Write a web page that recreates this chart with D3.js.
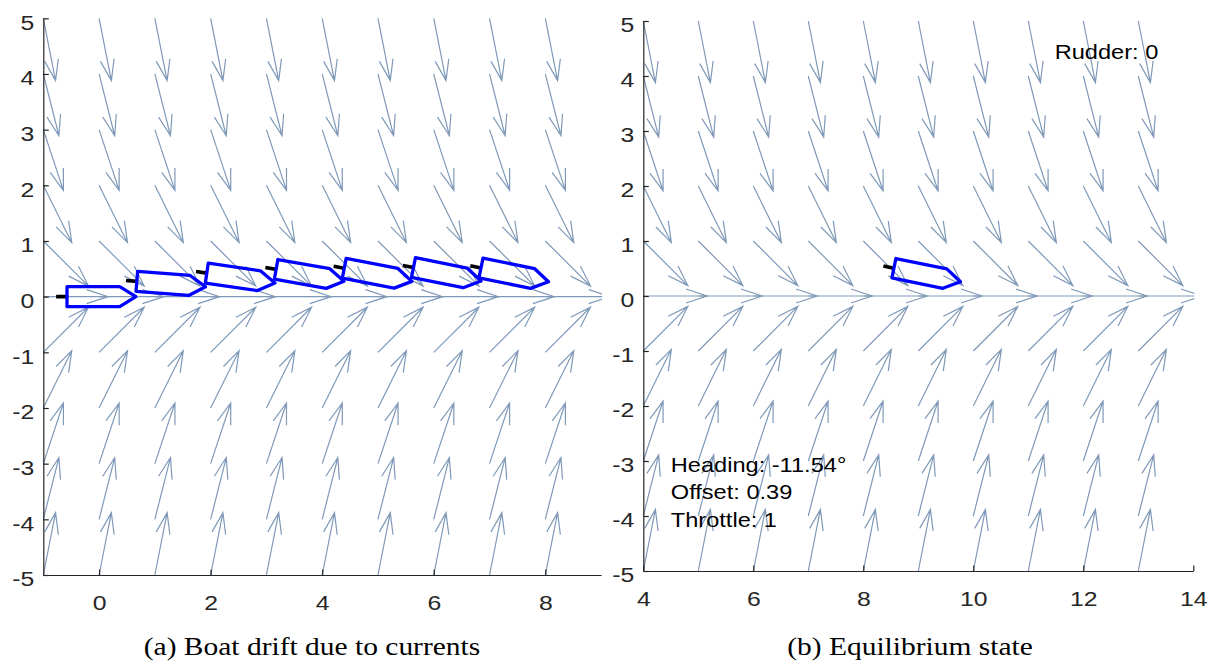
<!DOCTYPE html>
<html>
<head>
<meta charset="utf-8">
<script src="https://cdn.jsdelivr.net/npm/d3@7"></script>
<style>
	body { margin: 0; background: #fff; }
</style>
</head>
<body>
<script>
// current field: one vector per row, repeated along each row
var quiverRows = [-5, -4, -3, -2, -1, 0, 1, 2, 3, 4, 5];
var rowU = [0.22, 0.28, 0.36, 0.51, 0.81, 1.16, 0.81, 0.51, 0.36, 0.28, 0.22];
var rowV = [1.12, 1.11, 1.09, 1.03, 0.81, 0, -0.81, -1.03, -1.09, -1.11, -1.12];
var leftCols = [-1, 0, 1, 2, 3, 4, 5, 6, 7, 8];
var rightCols = [4, 5, 6, 7, 8, 9, 10, 11, 12, 13];

// boat snapshots (position of boat origin, heading in degrees)
var driftX = [0, 1.25, 2.5, 3.74, 4.96, 6.2, 7.41];
var driftY = [0, 0.23, 0.34, 0.39, 0.40, 0.41, 0.40];
var driftHeading = [0, -4.5, -8.3, -10, -11, -11.3, -11.6];
var eqX = [9.12];
var eqY = [0.39];
var eqHeading = [-11.54];

var leftXTicks = [0, 2, 4, 6, 8];
var rightXTicks = [4, 6, 8, 10, 12, 14];
var yTicks = [-5, -4, -3, -2, -1, 0, 1, 2, 3, 4, 5];

var infoLines = ["Heading: -11.54\u00b0", "Offset: 0.39", "Throttle: 1"];
var rudderLabel = "Rudder: 0";
var captions = ["(a) Boat drift due to currents", "(b) Equilibrium state"];

var W = 1208, H = 662;
var SX = 1.18; // the figure is stretched sideways
var sans = "'Liberation Sans', Arial, Helvetica, sans-serif";
var serif = "'Liberation Serif', 'Times New Roman', serif";

var svg = d3.select("body")
		.append("svg")
		.attr("width", W)
		.attr("height", H);

// hull outline and rudder in boat units
var hull = [[-0.575, 0.18], [0.37, 0.18], [0.66, 0], [0.37, -0.18], [-0.575, -0.18]];
var rudder = [[-0.575, 0], [-0.77, 0]];

function stretchedText(g, px, py, str, size, family, anchor) {
	return g.append("text")
			.attr("transform", "translate(" + px + "," + py + ") scale(" + SX + ",1)")
			.attr("text-anchor", anchor || "start")
			.attr("font-family", family)
			.attr("font-size", size)
			.text(str);
}

function drawPanel(opt) {
	var x = d3.scaleLinear().domain(opt.xDomain).range(opt.xRange);
	var y = d3.scaleLinear().domain([-5, 5]).range(opt.yRange);
	var g = svg.append("g");

	g.append("clipPath")
			.attr("id", opt.id)
		.append("rect")
			.attr("x", opt.xRange[0] - 1)
			.attr("y", opt.yRange[1] - 1)
			.attr("width", opt.xRange[1] - opt.xRange[0] + 2)
			.attr("height", opt.yRange[0] - opt.yRange[1] + 2);

	var plot = g.append("g").attr("clip-path", "url(#" + opt.id + ")");

	// quiver arrows, head shaped like matlab's quiver (alpha = beta = 0.33)
	var arrows = [];
	opt.cols.forEach(function(c) {
		quiverRows.forEach(function(r, i) {
			arrows.push({x: c, y: r, u: rowU[i], v: rowV[i]});
		});
	});
	var a = 0.33, b = 0.33;
	plot.selectAll("path.arrow")
			.data(arrows)
		.enter().append("path")
			.attr("class", "arrow")
			.attr("fill", "none")
			.attr("stroke", "#7f99b8")
			.attr("stroke-width", 1.2)
			.attr("d", function(d) {
				var tx = d.x + d.u, ty = d.y + d.v;
				var b1x = tx - a * (d.u + b * d.v), b1y = ty - a * (d.v - b * d.u);
				var b2x = tx - a * (d.u - b * d.v), b2y = ty - a * (d.v + b * d.u);
				return "M" + x(d.x) + "," + y(d.y) + "L" + x(tx) + "," + y(ty) +
					"M" + x(b1x) + "," + y(b1y) + "L" + x(tx) + "," + y(ty) + "L" + x(b2x) + "," + y(b2y);
			});

	// boats
	function place(bx, by, hdg, p) {
		var t = hdg * Math.PI / 180;
		return [x(bx + p[0] * Math.cos(t) - p[1] * Math.sin(t)),
				y(by + p[0] * Math.sin(t) + p[1] * Math.cos(t))];
	}
	opt.boatX.forEach(function(bx, i) {
		var by = opt.boatY[i], hdg = opt.boatHeading[i];
		plot.append("path")
				.attr("d", d3.line()(rudder.map(function(p) { return place(bx, by, hdg, p); })))
				.attr("stroke", "#000")
				.attr("stroke-width", 3.6)
				.attr("fill", "none");
		plot.append("path")
				.attr("d", d3.line()(hull.map(function(p) { return place(bx, by, hdg, p); })) + "Z")
				.attr("stroke", "#0000ff")
				.attr("stroke-width", 3.3)
				.attr("stroke-linejoin", "round")
				.attr("fill", "none");
	});

	// axes (box off, ticks pointing in), plain hyphen for negatives
	var fmt = function(d) { return String(d); };
	var xAxis = g.append("g")
			.attr("transform", "translate(0," + opt.yRange[0] + ")")
			.call(d3.axisBottom(x).tickValues(opt.xTicks).tickSizeInner(-5.5).tickSizeOuter(0).tickFormat(fmt));
	var yAxis = g.append("g")
			.attr("transform", "translate(" + opt.xRange[0] + ",0)")
			.call(d3.axisLeft(y).tickValues(yTicks).tickSizeInner(-5.5).tickSizeOuter(0).tickFormat(fmt));

	[xAxis, yAxis].forEach(function(ax) {
		ax.select(".domain").attr("stroke", "#262626").attr("stroke-width", 1.2);
		ax.selectAll(".tick line").attr("stroke", "#262626").attr("stroke-width", 1.2);
		ax.selectAll(".tick text")
				.attr("fill", "#262626")
				.attr("font-family", sans)
				.attr("font-size", 21)
				.attr("transform", "scale(" + SX + ",1)")
				.attr("dy", 0);
	});
	xAxis.selectAll(".tick text").attr("y", 35.5);
	yAxis.selectAll(".tick text").attr("x", -9 / SX).attr("y", 10.8);

	// caption
	stretchedText(g, opt.capX, 655, opt.caption, 25, serif, "middle").attr("fill", "#000");

	return {g: g, x: x, y: y};
}

drawPanel({
	id: "clip-left",
	xDomain: [-1, 9], xRange: [43.3, 601.1], yRange: [575, 18.3],
	cols: leftCols, xTicks: leftXTicks,
	boatX: driftX, boatY: driftY, boatHeading: driftHeading,
	caption: captions[0], capX: 312
});

var right = drawPanel({
	id: "clip-right",
	xDomain: [4, 14], xRange: [643.3, 1193.3], yRange: [571, 21],
	cols: rightCols, xTicks: rightXTicks,
	boatX: eqX, boatY: eqY, boatHeading: eqHeading,
	caption: captions[1], capX: 910
});

// state readout
stretchedText(right.g, right.x(11.48), right.y(4.5) + 10.8, rudderLabel, 20, sans).attr("fill", "#000");
infoLines.forEach(function(s, i) {
	stretchedText(right.g, right.x(4.5), right.y(-3) + 10.8 + i * 27.6, s, 20, sans).attr("fill", "#000");
});
</script>
</body>
</html>
